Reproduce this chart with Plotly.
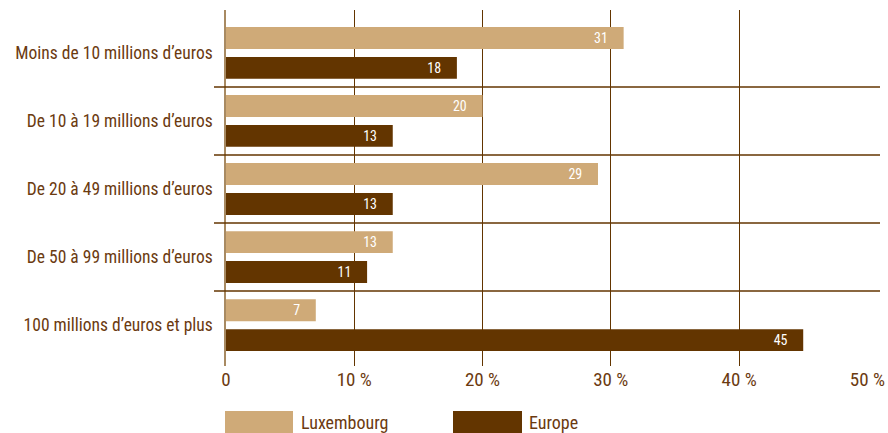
import plotly.graph_objects as go

categories = ["Moins de 10 millions d\u2019euros", "De 10 à 19 millions d\u2019euros",
              "De 20 à 49 millions d\u2019euros", "De 50 à 99 millions d\u2019euros",
              "100 millions d\u2019euros et plus"]
luxembourg = [31, 20, 29, 13, 7]
europe = [18, 13, 13, 11, 45]
tick_vals = [0, 10, 20, 30, 40, 50]
tick_text = ["0", "10 %", "20 %", "30 %", "40 %", "50 %"]

LUX_C = "#CFAA78"
EUR_C = "#633500"
TXT_C = "#6B3A10"
FONT = "Liberation Sans Narrow, Arial Narrow, Roboto Condensed, Liberation Sans, sans-serif"
PAD = "\u00a0" * 4

fig = go.Figure()
fig.add_trace(go.Bar(y=categories, x=luxembourg, orientation="h", name="Luxembourg",
                     marker=dict(color=LUX_C, line=dict(width=0)),
                     text=[str(v) + PAD for v in luxembourg], textposition="inside",
                     insidetextanchor="end", textfont=dict(color="white", size=14, family=FONT),
                     showlegend=False, hoverinfo="skip"))
fig.add_trace(go.Bar(y=categories, x=europe, orientation="h", name="Europe",
                     marker=dict(color=EUR_C, line=dict(width=0)),
                     text=[str(v) + PAD for v in europe], textposition="inside",
                     insidetextanchor="end", textfont=dict(color="white", size=14, family=FONT),
                     showlegend=False, hoverinfo="skip"))

shapes = []
for i in range(len(categories) - 1):
    shapes.append(dict(type="line", xref="paper", yref="y", x0=-0.0187, x1=1.0187,
                       y0=i + 0.5, y1=i + 0.5, line=dict(color=EUR_C, width=1.5), layer="above"))
# legend swatches
plot_top, plot_bot = 10, 366
h = plot_bot - plot_top
def py(pix):
    return (plot_bot - pix) / h
def px(pix):
    return (pix - 226) / (868 - 226)
shapes.append(dict(type="rect", xref="paper", yref="paper", x0=px(225), x1=px(293),
                   y0=py(433), y1=py(411), fillcolor=LUX_C, line=dict(width=0)))
shapes.append(dict(type="rect", xref="paper", yref="paper", x0=px(453), x1=px(522),
                   y0=py(433), y1=py(411), fillcolor=EUR_C, line=dict(width=0)))
annotations = [
    dict(text="Luxembourg", xref="paper", yref="paper", x=px(299), y=py(422), xanchor="left",
         yanchor="middle", showarrow=False, font=dict(color=TXT_C, size=18, family=FONT)),
    dict(text="Europe", xref="paper", yref="paper", x=px(527), y=py(422), xanchor="left",
         yanchor="middle", showarrow=False, font=dict(color=TXT_C, size=18, family=FONT)),
]

fig.update_layout(
    width=888, height=433,
    margin=dict(l=226, r=20, t=10, b=67),
    paper_bgcolor="white", plot_bgcolor="white",
    barmode="group", bargap=0.121, bargroupgap=0.267,
    font=dict(family=FONT, color=TXT_C, size=17.5),
    xaxis=dict(range=[0, 50.05], tickvals=tick_vals, ticktext=tick_text, automargin=False,
               showgrid=True, gridcolor=EUR_C, gridwidth=1, zeroline=False,
               showline=False, ticks="", tickfont=dict(size=19, color=TXT_C)),
    yaxis=dict(autorange=False, range=[4.6, -0.63], categoryorder="array", automargin=False,
               categoryarray=categories, showgrid=False, zeroline=False,
               showline=True, linecolor="#A88A62", linewidth=1.5, ticks="",
               ticksuffix="  ", tickfont=dict(size=17.5, color=TXT_C)),
    shapes=shapes, annotations=annotations,
    uniformtext=dict(mode="show", minsize=10),
)
fig.write_html("out.html", config={"displayModeBar": False},
               post_script="document.body.style.margin='0px';document.body.style.padding='0px';")
